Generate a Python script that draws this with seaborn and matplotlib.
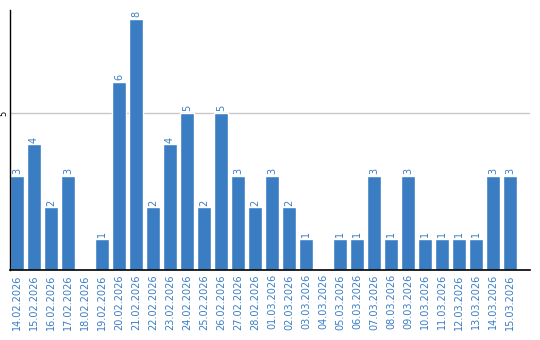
import matplotlib
matplotlib.use("Agg")
import matplotlib.pyplot as plt
import seaborn as sns
import pandas as pd

dates = ["14.02.2026", "15.02.2026", "16.02.2026", "17.02.2026", "18.02.2026",
         "19.02.2026", "20.02.2026", "21.02.2026", "22.02.2026", "23.02.2026",
         "24.02.2026", "25.02.2026", "26.02.2026", "27.02.2026", "28.02.2026",
         "01.03.2026", "02.03.2026", "03.03.2026", "04.03.2026", "05.03.2026",
         "06.03.2026", "07.03.2026", "08.03.2026", "09.03.2026", "10.03.2026",
         "11.03.2026", "12.03.2026", "13.03.2026", "14.03.2026", "15.03.2026"]
values = [3, 4, 2, 3, 0, 1, 6, 8, 2, 4, 5, 2, 5, 3, 2,
          3, 2, 1, 0, 1, 1, 3, 1, 3, 1, 1, 1, 1, 3, 3]
yticks = [5]

df = pd.DataFrame({"date": dates, "value": values})
blue = "#3b7dc3"

sns.set_style("white")
fig = plt.figure(figsize=(5.4, 3.4), dpi=100)
ax = fig.add_axes([10/540, 70/340, 520/540, 260/340])
sns.barplot(data=df, x="date", y="value", color=blue, saturation=1,
            width=0.82, ax=ax)
ax.set_xlim(-0.41, 30.18)
ax.set_ylim(0, 8.28)
ax.set_xlabel("")
ax.set_ylabel("")
ax.set_yticks(yticks)
ax.set_yticklabels([str(t) for t in yticks], rotation=90, fontsize=6,
                   color="black", va="center")
ax.tick_params(axis="y", length=0, pad=1)
ax.tick_params(axis="x", length=0, pad=3)
ax.set_xticks(range(len(dates)))
ax.set_xticklabels(dates, rotation=90, fontsize=7, color=blue)
for t in yticks:
    ax.axhline(t, color="#c8c8c8", lw=1, zorder=0)
for s in ["top", "right"]:
    ax.spines[s].set_visible(False)
ax.spines["left"].set_color("black")
ax.spines["bottom"].set_color("black")
ax.spines["left"].set_linewidth(1)
ax.spines["bottom"].set_linewidth(1.2)
for i, v in enumerate(values):
    if v > 0:
        ax.text(i, v + 0.05, str(v), rotation=90, ha="center", va="bottom",
                fontsize=7, color=blue)
fig.savefig("out.png", dpi=100)
